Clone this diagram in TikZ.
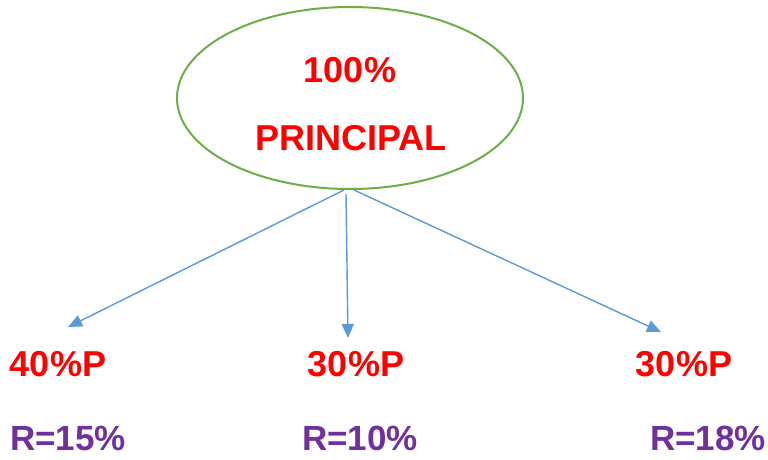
\documentclass[tikz,border=0pt]{standalone}
\usepackage{fontspec}
\setmainfont{Liberation Sans}
\usetikzlibrary{arrows.meta,shapes.geometric,positioning}
\definecolor{cRing}{HTML}{70AD47}
\definecolor{cArr}{HTML}{5B9BD5}
\definecolor{cPart}{HTML}{FF0000}
\definecolor{cRate}{HTML}{7030A0}
\tikzset{
  ring/.style={ellipse,draw=cRing,line width=2pt,minimum width=346pt,minimum height=182pt,inner sep=0pt},
  part/.style={font=\fontsize{36}{36}\selectfont\bfseries,text=cPart,inner sep=0pt},
  rate/.style={font=\fontsize{35}{35}\selectfont\bfseries,text=cRate,inner sep=0pt,text depth=0pt,anchor=base},
  arr/.style={-{Triangle[length=14pt,width=12pt]},cArr,line width=1.4pt},
}
\begin{document}
\begin{tikzpicture}[x=1pt,y=-1pt]
  \useasboundingbox (0,0) rectangle (768,459);
  % principal
  \node[ring] (root) at (350,98) {};
  \node[part] (pct) at (350,70) {100\%};
  \node[part] (prin) at (351,138) {PRINCIPAL};
  % shares
  \node[part] (p1) at (58,364) {40\%P};
  \node[part] (p2) at (356,364) {30\%P};
  \node[part] (p3) at (684,364) {30\%P};
  \node[rate] (r1) at (68,450) {R=15\%};
  \node[rate] (r2) at (360,450) {R=10\%};
  \node[rate] (r3) at (708,450) {R=18\%};
  % arrow ends
  \coordinate (t1) at (68,327);
  \coordinate (t2) at (348,338);
  \coordinate (t3) at (661,332);
  \draw[arr] ([xshift=-6pt]root.south) -- (t1);
  \draw[arr] ([xshift=-4pt,yshift=-4pt]root.south) -- (t2);
  \draw[arr] ([xshift=4pt]root.south) -- (t3);
\end{tikzpicture}
\end{document}
